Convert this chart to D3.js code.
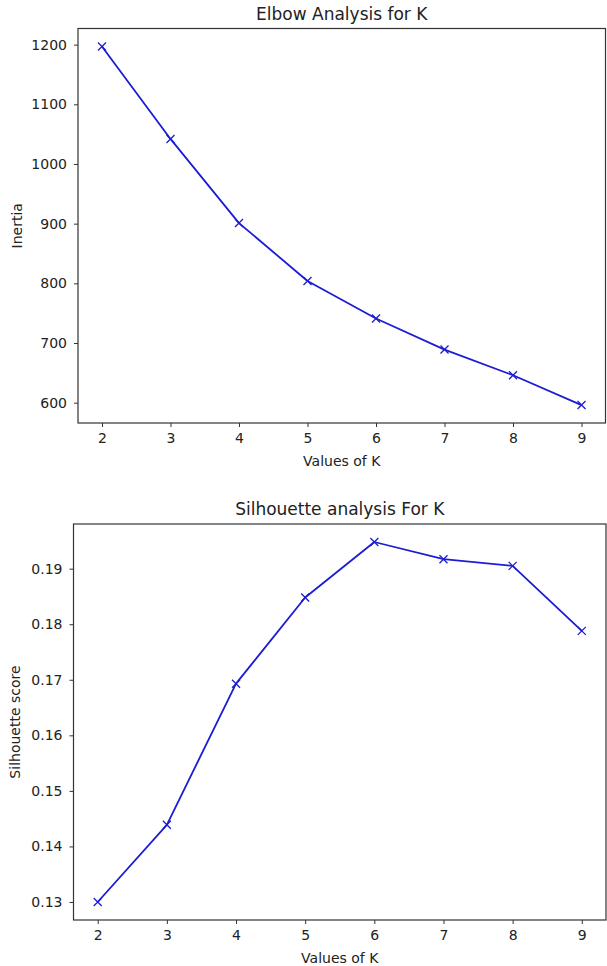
<!DOCTYPE html>
<html><head><meta charset="utf-8">
<script src="https://cdn.jsdelivr.net/npm/d3@7"></script>
<style>
body{margin:0;background:#fff;}
svg{display:block;font-family:"DejaVu Sans",sans-serif;}
</style></head>
<body>
<svg id="c" width="607" height="966"></svg>
<script>
const kValues = [2, 3, 4, 5, 6, 7, 8, 9];
const inertia = [1197, 1042, 901, 804, 741, 689, 646, 596];
const silhouette = [0.1300, 0.1439, 0.1693, 0.1848, 0.1948, 0.1917, 0.1905, 0.1788];
const inertiaTicks = [600, 700, 800, 900, 1000, 1100, 1200];
const silTicks = [0.13, 0.14, 0.15, 0.16, 0.17, 0.18, 0.19];

const svg = d3.select("#c");
const lineColor = "#1c1cd4";
const axisColor = "#333";

function panel(cfg) {
  const {left, right, top, bottom, values, yTicks, yFmt, title, ylabel, ylabelX} = cfg;
  const pad = (a, b) => { const m = (b - a) * 0.05; return [a - m, b + m]; };
  const xd = pad(d3.min(kValues), d3.max(kValues));
  const yd = pad(d3.min(values), d3.max(values));
  const x = d3.scaleLinear().domain(xd).range([left, right]);
  const y = d3.scaleLinear().domain(yd).range([bottom, top]);
  const g = svg.append("g");

  const xa = g.append("g").attr("transform", `translate(0,${bottom})`)
    .call(d3.axisBottom(x).tickValues(kValues).tickFormat(d3.format("d")).tickSize(4).tickPadding(6));
  const ya = g.append("g").attr("transform", `translate(${left},0)`)
    .call(d3.axisLeft(y).tickValues(yTicks).tickFormat(yFmt).tickSize(4).tickPadding(7));
  [xa, ya].forEach(a => {
    a.select(".domain").remove();
    a.selectAll("line").attr("stroke", axisColor).attr("stroke-width", 1);
    a.selectAll("text").attr("font-size", 14).attr("fill", "#222").attr("font-family", "DejaVu Sans");
  });
  xa.selectAll("text").attr("dy", "0.71em");

  g.append("rect").attr("x", left).attr("y", top).attr("width", right - left).attr("height", bottom - top)
    .attr("fill", "none").attr("stroke", axisColor).attr("stroke-width", 1.2);

  const line = d3.line().x((d, i) => x(kValues[i])).y(d => y(d));
  g.append("path").datum(values).attr("d", line).attr("fill", "none")
    .attr("stroke", lineColor).attr("stroke-width", 1.8).attr("stroke-linejoin", "round");

  const s = 4;
  g.selectAll("path.mk").data(values).join("path").attr("class", "mk")
    .attr("d", (d, i) => {
      const cx = x(kValues[i]), cy = y(d);
      return `M${cx - s},${cy - s}L${cx + s},${cy + s}M${cx - s},${cy + s}L${cx + s},${cy - s}`;
    })
    .attr("stroke", lineColor).attr("stroke-width", 1.3);

  g.append("text").attr("x", (left + right) / 2).attr("y", top - 9).attr("text-anchor", "middle")
    .attr("font-size", 17).attr("fill", "#222").text(title);
  g.append("text").attr("x", (left + right) / 2).attr("y", bottom + 43).attr("text-anchor", "middle")
    .attr("font-size", 14).attr("fill", "#222").text("Values of K");
  g.append("text").attr("transform", `translate(${ylabelX},${(top + bottom) / 2}) rotate(-90)`)
    .attr("text-anchor", "middle").attr("font-size", 14).attr("fill", "#222").text(ylabel);
}

panel({left: 78, right: 605.5, top: 28.5, bottom: 423, values: inertia, yTicks: inertiaTicks,
  yFmt: d3.format("d"), title: "Elbow Analysis for K", ylabel: "Inertia", ylabelX: 22});
panel({left: 73.5, right: 606, top: 524, bottom: 920, values: silhouette, yTicks: silTicks,
  yFmt: d3.format(".2f"), title: "Silhouette analysis For K", ylabel: "Silhouette score", ylabelX: 20});
</script>
</body></html>
